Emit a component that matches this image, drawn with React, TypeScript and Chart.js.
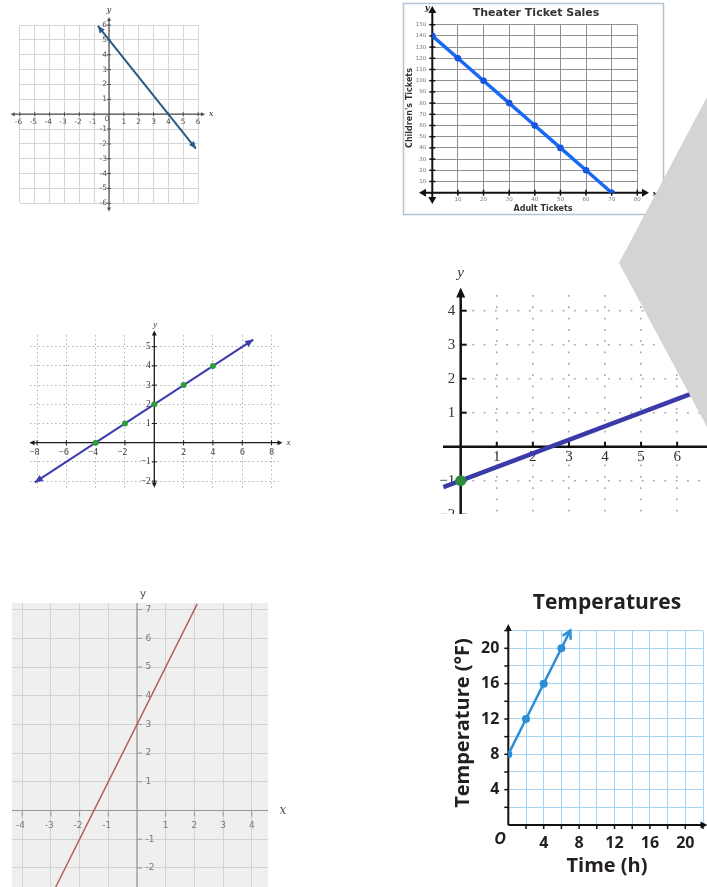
import { useEffect, useRef } from "react";
import { Chart, registerables } from "chart.js";

Chart.register(...registerables);

const W = 707;
const H = 887;

// Graph 1: y = 5 − 1.25x
const g1LineX = [-0.75, 5.85];
const g1LineY = [5.94, -2.31];
const g1Ticks = [-6, -5, -4, -3, -2, -1, 1, 2, 3, 4, 5, 6];

// Graph 2: Theater Ticket Sales
const adultTickets = [0, 10, 20, 30, 40, 50, 60, 70];
const childrenTickets = [140, 120, 100, 80, 60, 40, 20, 0];
const adultTickLabels = [10, 20, 30, 40, 50, 60, 70, 80];
const childTickLabels = [10, 20, 30, 40, 50, 60, 70, 80, 90, 100, 110, 120, 130, 140, 150];

// Graph 3: y = x/2 + 2
const g3LineX = [-8.15, 6.75];
const g3LineY = [-2.07, 5.37];
const g3PointX = [-4, -2, 0, 2, 4];
const g3PointY = [0, 1, 2, 3, 4];
const g3TicksX = [-8, -6, -4, -2, 2, 4, 6, 8];
const g3TicksY = [-2, -1, 1, 2, 3, 4, 5];

// Graph 4: y = 0.4x − 1
const g4LineX = [-0.48, 6.75];
const g4LineY = [-1.19, 1.7];
const g4PointX = [0];
const g4PointY = [-1];
const g4TicksX = [1, 2, 3, 4, 5, 6];
const g4TicksY = [-2, -1, 1, 2, 3, 4];

// Graph 5: y = 2x + 3
const g5LineX = [-2.85, 2.1];
const g5LineY = [-2.7, 7.2];
const g5TicksX = [-4, -3, -2, -1, 1, 2, 3, 4];
const g5TicksY = [-2, -1, 1, 2, 3, 4, 5, 6, 7];

// Graph 6: Temperatures (last pair is the arrow tip)
const hours = [0, 2, 4, 6, 7];
const temps = [8, 12, 16, 20, 22];
const timeTicks = [4, 8, 12, 16, 20];
const tempTicks = [4, 8, 12, 16, 20];

type Ctx = CanvasRenderingContext2D;
type Fn = (v: number) => number;

const zip = (xs: number[], ys: number[]) => xs.map((x, i) => ({ x, y: ys[i] }));
const fmt = (v: number, minus: string) => (v < 0 ? minus + Math.abs(v) : String(v));

function seg(ctx: Ctx, x1: number, y1: number, x2: number, y2: number, color: string, width: number) {
  ctx.save();
  ctx.strokeStyle = color;
  ctx.lineWidth = width;
  ctx.setLineDash([]);
  ctx.beginPath();
  ctx.moveTo(x1, y1);
  ctx.lineTo(x2, y2);
  ctx.stroke();
  ctx.restore();
}

function head(ctx: Ctx, fx: number, fy: number, tx: number, ty: number, len: number, half: number, color: string, open = false, lw = 2) {
  const a = Math.atan2(ty - fy, tx - fx);
  const bx = tx - len * Math.cos(a);
  const by = ty - len * Math.sin(a);
  const nx = -Math.sin(a) * half;
  const ny = Math.cos(a) * half;
  ctx.save();
  ctx.setLineDash([]);
  if (open) {
    ctx.strokeStyle = color;
    ctx.lineWidth = lw;
    ctx.lineJoin = "miter";
    ctx.beginPath();
    ctx.moveTo(bx + nx, by + ny);
    ctx.lineTo(tx, ty);
    ctx.lineTo(bx - nx, by - ny);
    ctx.stroke();
  } else {
    ctx.fillStyle = color;
    ctx.beginPath();
    ctx.moveTo(tx, ty);
    ctx.lineTo(bx + nx, by + ny);
    ctx.lineTo(bx - nx, by - ny);
    ctx.closePath();
    ctx.fill();
  }
  ctx.restore();
}

function txt(ctx: Ctx, s: string, x: number, y: number, font: string, color: string, align: CanvasTextAlign = "center", rot = 0) {
  ctx.save();
  ctx.font = font;
  ctx.fillStyle = color;
  ctx.textAlign = align;
  ctx.textBaseline = "middle";
  ctx.translate(x, y);
  if (rot) ctx.rotate(rot);
  ctx.fillText(s, 0, 0);
  ctx.restore();
}

// digits centred on the tick, a leading minus sign hangs to the left
function numTxt(ctx: Ctx, s: string, x: number, y: number, font: string, color: string) {
  if (/^[-−]/.test(s)) {
    ctx.save();
    ctx.font = font;
    const w = ctx.measureText(s.slice(1)).width;
    ctx.restore();
    txt(ctx, s, x + w / 2, y, font, color, "right");
  } else {
    txt(ctx, s, x, y, font, color, "center");
  }
}

function ends(chart: Chart, idx: number) {
  const pts = chart.getDatasetMeta(idx).data as any[];
  const n = pts.length;
  return { a: pts[0], a2: pts[1], b: pts[n - 1], b2: pts[n - 2] };
}

type Axis = { min: number; max: number; step: number; origin: number; unit: number; color: string; width?: number; dash?: number[] };
type Spec = {
  x: Axis;
  y: Axis;
  datasets: any[];
  clip?: [number, number, number, number];
  background?: string;
  under?: (ctx: Ctx, X: Fn, Y: Fn, chart: Chart) => void;
  over?: (ctx: Ctx, X: Fn, Y: Fn, chart: Chart) => void;
};

function build(canvas: HTMLCanvasElement, s: Spec) {
  const l = s.x.origin + s.x.min * s.x.unit;
  const r = s.x.origin + s.x.max * s.x.unit;
  const t = s.y.origin - s.y.max * s.y.unit;
  const b = s.y.origin - s.y.min * s.y.unit;
  const scale = (a: Axis) => ({
    type: "linear",
    min: a.min,
    max: a.max,
    border: { display: false, dash: a.dash || [] },
    grid: { color: a.color, lineWidth: a.width ?? 1, drawTicks: false },
    ticks: { display: false, stepSize: a.step, includeBounds: false },
  });
  const fns = (chart: Chart) => {
    const X: Fn = (v) => chart.scales.x.getPixelForValue(v);
    const Y: Fn = (v) => chart.scales.y.getPixelForValue(v);
    return { X, Y };
  };
  const decor = {
    id: "decor",
    beforeDraw(chart: Chart) {
      const ctx = chart.ctx;
      ctx.save();
      if (s.clip) {
        ctx.beginPath();
        ctx.rect(s.clip[0], s.clip[1], s.clip[2], s.clip[3]);
        ctx.clip();
      }
      if (s.background) {
        const ca = chart.chartArea;
        ctx.fillStyle = s.background;
        ctx.fillRect(ca.left, ca.top, ca.right - ca.left, ca.bottom - ca.top);
      }
    },
    beforeDatasetsDraw(chart: Chart) {
      const { X, Y } = fns(chart);
      s.under && s.under(chart.ctx, X, Y, chart);
    },
    afterDatasetsDraw(chart: Chart) {
      const { X, Y } = fns(chart);
      s.over && s.over(chart.ctx, X, Y, chart);
    },
    afterDraw(chart: Chart) {
      chart.ctx.restore();
    },
  };
  return new Chart(canvas, {
    type: "scatter",
    data: { datasets: s.datasets },
    options: {
      responsive: false,
      animation: false,
      events: [],
      layout: { padding: { left: l, top: t, right: W - r, bottom: H - b } },
      plugins: { legend: { display: false }, tooltip: { enabled: false } },
      scales: { x: scale(s.x) as any, y: scale(s.y) as any },
      elements: { line: { tension: 0 } },
    },
    plugins: [decor],
  });
}

// ---------- Graph 1 ----------
const graph1: Spec = {
  x: { min: -6, max: 6, step: 1, origin: 109, unit: 14.85, color: "#d6d6d6" },
  y: { min: -6, max: 6, step: 1, origin: 114.2, unit: 14.85, color: "#d6d6d6" },
  datasets: [
    { data: zip(g1LineX, g1LineY), showLine: true, borderColor: "#2c5a86", borderWidth: 2, pointRadius: 0 },
  ],
  under(ctx, X, Y) {
    const c = "#4d4d4d";
    const x0 = X(0);
    const y0 = Y(0);
    seg(ctx, X(-6.45), y0, X(6.3), y0, c, 1.2);
    head(ctx, x0, y0, X(-6.62), y0, 4, 2, c);
    head(ctx, x0, y0, X(6.47), y0, 4, 2, c);
    seg(ctx, x0, Y(6.35), x0, Y(-6.35), c, 1.2);
    head(ctx, x0, y0, x0, Y(6.55), 4, 2, c);
    head(ctx, x0, y0, x0, Y(-6.55), 4, 2, c);
    const f = '7.5px "DejaVu Sans"';
    const tc = "#555";
    for (const v of g1Ticks) {
      seg(ctx, X(v), y0 - 2, X(v), y0 + 2, c, 1);
      seg(ctx, x0 - 2, Y(v), x0 + 2, Y(v), c, 1);
      numTxt(ctx, fmt(v, "-"), X(v), y0 + 7.5, f, tc);
      txt(ctx, fmt(v, "-"), x0 - 2, Y(v), f, tc, "right");
    }
    txt(ctx, "0", x0 - 2, y0 + 5, f, tc);
    txt(ctx, "x", X(6.47) + 4, y0, 'italic 8px "DejaVu Serif"', "#333", "left");
    txt(ctx, "y", x0, 10, 'italic 8px "DejaVu Serif"', "#333");
  },
  over(ctx, X, Y, chart) {
    const e = ends(chart, 0);
    head(ctx, e.a2.x, e.a2.y, e.a.x, e.a.y, 7, 3.2, "#2c5a86");
    head(ctx, e.b2.x, e.b2.y, e.b.x, e.b.y, 7, 3.2, "#2c5a86");
  },
};

// ---------- Graph 2 ----------
const graph2: Spec = {
  x: { min: 0, max: 80, step: 10, origin: 432.3, unit: 2.5625, color: "#909090" },
  y: { min: 0, max: 150, step: 10, origin: 192.7, unit: 1.12, color: "#909090" },
  datasets: [
    {
      data: zip(adultTickets, childrenTickets),
      showLine: true,
      borderColor: "#1769f7",
      borderWidth: 3.5,
      pointRadius: 3.3,
      pointBackgroundColor: "#1557e0",
      pointBorderWidth: 0,
    },
  ],
  under(ctx, X, Y) {
    ctx.save();
    ctx.strokeStyle = "#b4c4d4";
    ctx.lineWidth = 1.5;
    ctx.strokeRect(403.5, 3.5, 260, 211);
    ctx.restore();
    const c = "#111";
    const x0 = X(0);
    const y0 = Y(0);
    seg(ctx, 424, y0, 644, y0, c, 2);
    head(ctx, x0, y0, 419, y0, 7, 4, c);
    head(ctx, x0, y0, 649, y0, 7, 4, c);
    seg(ctx, x0, 11, x0, 199, c, 2);
    head(ctx, x0, y0, x0, 6, 7, 4, c);
    head(ctx, x0, y0, x0, 204, 7, 4, c);
    const f = '5.5px "DejaVu Sans"';
    const tc = "#777";
    for (const v of adultTickLabels) {
      seg(ctx, X(v), y0 - 3, X(v), y0 + 3, c, 1.5);
      txt(ctx, String(v), X(v), y0 + 6.5, f, tc);
    }
    for (const v of childTickLabels) {
      seg(ctx, x0 - 3, Y(v), x0 + 3, Y(v), c, 1.5);
      txt(ctx, String(v), x0 - 6, Y(v), f, tc, "right");
    }
    txt(ctx, "Theater Ticket Sales", 536, 13.5, 'bold 11px "DejaVu Sans"', "#333");
    txt(ctx, "Adult Tickets", 543, 209, 'bold 8px "DejaVu Sans"', "#333");
    txt(ctx, "Children's Tickets", 410, 108, 'bold 8px "DejaVu Sans"', "#333", "center", -Math.PI / 2);
    txt(ctx, "x", 655, y0 + 1, 'bold italic 8px "DejaVu Serif"', "#222");
    txt(ctx, "y", 427, 8, 'bold italic 8px "DejaVu Serif"', "#222");
  },
};

// ---------- Graph 3 ----------
const graph3: Spec = {
  x: { min: -8.5, max: 8.5, step: 2, origin: 154.3, unit: 14.66, color: "#b3b3b3", dash: [1.5, 2.7] },
  y: { min: -2.5, max: 5.6, step: 1, origin: 442.7, unit: 19.2, color: "#b3b3b3", dash: [1.5, 2.7] },
  datasets: [
    { data: zip(g3PointX, g3PointY), showLine: false, pointRadius: 3, pointBackgroundColor: "#2f9a3b", pointBorderWidth: 0 },
    { data: zip(g3LineX, g3LineY), showLine: true, borderColor: "#3c3cae", borderWidth: 2, pointRadius: 0 },
  ],
  under(ctx, X, Y) {
    const c = "#1a1a1a";
    const x0 = X(0);
    const y0 = Y(0);
    seg(ctx, 33, y0, 279, y0, c, 1.3);
    head(ctx, x0, y0, 29.5, y0, 5, 2.5, c);
    head(ctx, x0, y0, 282.5, y0, 5, 2.5, c);
    seg(ctx, x0, 334, x0, 484, c, 1.3);
    head(ctx, x0, y0, x0, 330.5, 5, 2.5, c);
    head(ctx, x0, y0, x0, 487.5, 5, 2.5, c);
    const f = '9.5px "Liberation Serif"';
    const tc = "#333";
    for (const v of g3TicksX) {
      seg(ctx, X(v), y0 - 2.5, X(v), y0 + 2.5, c, 1);
      numTxt(ctx, fmt(v, "−"), X(v), y0 + 9.5, f, tc);
    }
    for (const v of g3TicksY) {
      seg(ctx, x0 - 2.5, Y(v), x0 + 2.5, Y(v), c, 1);
      txt(ctx, fmt(v, "−"), x0 - 3.5, Y(v), f, tc, "right");
    }
    txt(ctx, "x", 288.5, y0, 'italic 9px "Liberation Serif"', "#333");
    txt(ctx, "y", x0 + 1, 325, 'italic 9px "Liberation Serif"', "#333");
  },
  over(ctx, X, Y, chart) {
    const e = ends(chart, 1);
    head(ctx, e.a2.x, e.a2.y, e.a.x, e.a.y, 8, 3.6, "#3c3cae");
    head(ctx, e.b2.x, e.b2.y, e.b.x, e.b.y, 8, 3.6, "#3c3cae");
  },
};

// ---------- Graph 4 ----------
const graph4: Spec = {
  x: { min: 0, max: 6.675, step: 1, origin: 460.7, unit: 36.9, color: "#a8a8a8", width: 1.6, dash: [1.8, 9.5] },
  y: { min: -1.98, max: 4.46, step: 1, origin: 446.7, unit: 34, color: "#a8a8a8", width: 1.6, dash: [1.8, 9.5] },
  clip: [410, 262, 297, 252],
  datasets: [
    { data: zip(g4PointX, g4PointY), showLine: false, pointRadius: 5.5, pointBackgroundColor: "#2e8c3d", pointBorderWidth: 0, clip: false },
    { data: zip(g4LineX, g4LineY), showLine: true, borderColor: "#3b3ba8", borderWidth: 4.5, pointRadius: 0, clip: false },
  ],
  under(ctx, X, Y) {
    const c = "#111";
    const x0 = X(0);
    const y0 = Y(0);
    seg(ctx, 443, y0, 707, y0, c, 2.5);
    seg(ctx, x0, 296, x0, 514, c, 2.5);
    head(ctx, x0, y0, x0, 287.5, 10, 4.5, c);
    const f = '15px "Liberation Serif"';
    const tc = "#333";
    for (const v of g4TicksX) {
      seg(ctx, X(v), y0 - 5, X(v), y0, c, 2);
      txt(ctx, String(v), X(v), y0 + 10, f, tc);
    }
    for (const v of g4TicksY) {
      seg(ctx, x0, Y(v), x0 + 6, Y(v), c, 2);
      txt(ctx, fmt(v, "−"), x0 - 5.5, Y(v), f, tc, "right");
    }
    txt(ctx, "y", x0, 273, 'italic 15px "Liberation Serif"', "#333");
  },
};

// ---------- Graph 5 ----------
const graph5: Spec = {
  x: { min: -4.355, max: 4.564, step: 1, origin: 137, unit: 28.7, color: "#d2d2d2" },
  y: { min: -2.665, max: 7.23, step: 1, origin: 810.5, unit: 28.7, color: "#d2d2d2" },
  background: "#efefef",
  datasets: [
    { data: zip(g5LineX, g5LineY), showLine: true, borderColor: "#b5595a", borderWidth: 1.4, pointRadius: 0 },
  ],
  under(ctx, X, Y, chart) {
    const ca = chart.chartArea;
    const c = "#959595";
    const x0 = X(0);
    const y0 = Y(0);
    seg(ctx, ca.left, y0, ca.right, y0, c, 1.2);
    seg(ctx, x0, ca.top, x0, ca.bottom, c, 1.2);
    const f = '9px "DejaVu Sans"';
    const tc = "#7a7a7a";
    for (const v of g5TicksX) {
      seg(ctx, X(v), y0 + 1, X(v), y0 + 6, c, 1);
      numTxt(ctx, fmt(v, "-"), X(v), y0 + 15.5, f, tc);
    }
    for (const v of g5TicksY) {
      seg(ctx, x0, Y(v), x0 + 5, Y(v), c, 1);
      txt(ctx, fmt(v, "-"), x0 + 8.5, Y(v), f, tc, "left");
    }
    txt(ctx, "y", 143, 594, '11px "DejaVu Sans"', "#555");
    txt(ctx, "x", 283, 811, 'italic 12px "DejaVu Serif"', "#555");
  },
};

// ---------- Graph 6 ----------
const graph6: Spec = {
  x: { min: 0, max: 22, step: 2, origin: 508.3, unit: 8.92, color: "#a7d3f3" },
  y: { min: 0, max: 22, step: 2, origin: 825, unit: 8.835, color: "#a7d3f3" },
  datasets: [
    {
      data: zip(hours, temps),
      showLine: true,
      borderColor: "#2b8ed6",
      borderWidth: 2.5,
      pointRadius: [4, 4, 4, 4, 0],
      pointBackgroundColor: "#2b8ed6",
      pointBorderWidth: 0,
    },
  ],
  under(ctx, X, Y) {
    const c = "#111";
    const x0 = X(0);
    const y0 = Y(0);
    seg(ctx, x0, y0, 703, y0, c, 2);
    head(ctx, x0, y0, 707.5, y0, 7, 3.5, c);
    seg(ctx, x0, y0, x0, 629, c, 2);
    head(ctx, x0, y0, x0, 624, 7, 3.5, c);
    for (let v = 2; v <= 22; v += 2) {
      seg(ctx, X(v), y0, X(v), y0 + 4, c, 1.5);
      seg(ctx, x0 - 4, Y(v), x0, Y(v), c, 1.5);
    }
    const f = 'bold 16px "Open Sans"';
    const tc = "#231f20";
    for (const v of timeTicks) txt(ctx, String(v), X(v), y0 + 18, f, tc);
    for (const v of tempTicks) txt(ctx, String(v), x0 - 9, Y(v), f, tc, "right");
    txt(ctx, "O", 500, 839, 'italic bold 16px "Open Sans"', tc);
    txt(ctx, "Temperatures", 607, 603, 'bold 21px "Open Sans"', tc);
    txt(ctx, "Time (h)", 607, 866, 'bold 20px "Open Sans"', tc);
    txt(ctx, "Temperature (°F)", 463, 723, 'bold 20px "Open Sans"', tc, "center", -Math.PI / 2);
  },
  over(ctx, X, Y, chart) {
    const e = ends(chart, 0);
    head(ctx, e.b2.x, e.b2.y, e.b.x, e.b.y, 8, 4.5, "#2b8ed6", true, 2.5);
  },
};

const graphs: Spec[] = [graph1, graph2, graph3, graph4, graph5, graph6];

function GraphCanvas({ spec }: { spec: Spec }) {
  const ref = useRef<HTMLCanvasElement | null>(null);
  useEffect(() => {
    const chart = build(ref.current as HTMLCanvasElement, spec);
    return () => chart.destroy();
  }, [spec]);
  return (
    <canvas
      ref={ref}
      width={W}
      height={H}
      style={{ position: "absolute", left: 0, top: 0, width: W, height: H }}
    />
  );
}

export default function App() {
  return (
    <div style={{ position: "absolute", left: 0, top: 0, width: W, height: H, overflow: "hidden", background: "#fff" }}>
      {graphs.map((g, i) => (
        <GraphCanvas key={i} spec={g} />
      ))}
      <div
        style={{
          position: "absolute",
          left: 0,
          top: 0,
          width: W,
          height: H,
          background: "#d4d4d4",
          clipPath: "polygon(707px 97px, 619px 263px, 707px 427px)",
        }}
      />
    </div>
  );
}
